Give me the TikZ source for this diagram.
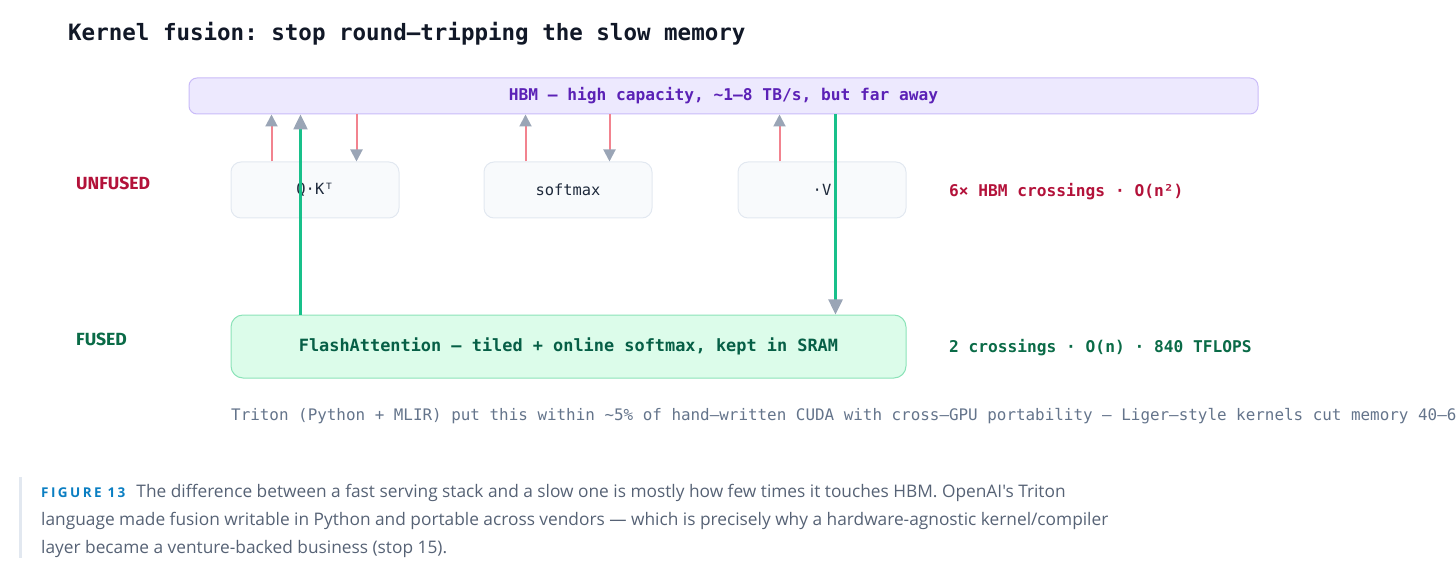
\documentclass[tikz,border=0pt]{standalone}
\usepackage{fontspec}
\setmonofont{DejaVu Sans Mono}
\newfontfamily\capfont{Open Sans}
\newfontfamily\labfont{Fira Sans}
\usetikzlibrary{arrows.meta,calc}
\definecolor{titlec}{HTML}{111827}
\definecolor{hbmfill}{HTML}{EDE9FE}
\definecolor{hbmdraw}{HTML}{C9BBF8}
\definecolor{hbmtext}{HTML}{5B21B6}
\definecolor{boxfill}{HTML}{F8FAFC}
\definecolor{boxdraw}{HTML}{E2E8F0}
\definecolor{boxtext}{HTML}{1E293B}
\definecolor{pinkc}{HTML}{F2838F}
\definecolor{tipgray}{HTML}{9AA5B6}
\definecolor{greenc}{HTML}{18C08A}
\definecolor{flashfill}{HTML}{DCFCEA}
\definecolor{flashdraw}{HTML}{8BE3B8}
\definecolor{flashtext}{HTML}{065F46}
\definecolor{redc}{HTML}{B3123A}
\definecolor{fusedc}{HTML}{0A6B47}
\definecolor{tritonc}{HTML}{64748B}
\definecolor{capc}{HTML}{566275}
\definecolor{figc}{HTML}{0A7EC2}
\definecolor{barc}{HTML}{E2E8F0}
\tikzset{
  opbox/.style={draw=boxdraw, fill=boxfill, line width=1pt, rounded corners=10pt,
    minimum width=168pt, minimum height=56pt, inner sep=0pt,
    font=\ttfamily\fontsize{15.4}{18}\selectfont, text=boxtext},
  pinkup/.style={draw=pinkc, line width=2pt, -{Triangle[length=12pt,width=12pt,color=tipgray]}},
  greenarr/.style={draw=greenc, line width=2.5pt, -{Triangle[length=15pt,width=14pt,color=tipgray]}},
  sidelab/.style={anchor=base west, font=\labfont\bfseries\fontsize{17.6}{20}\selectfont},
  stat/.style={anchor=west, inner sep=0pt, font=\ttfamily\bfseries\fontsize{16.2}{19}\selectfont},
  capline/.style={anchor=base west, inner sep=0pt, text=capc, font=\capfont\fontsize{17.3}{20}\selectfont}
}
\begin{document}
\begin{tikzpicture}[x=1pt,y=-1pt]
\useasboundingbox (0,0) rectangle (1456,577);
% title
\node[anchor=base west, inner sep=0pt, text=titlec, font=\ttfamily\bfseries\fontsize{22.5}{26}\selectfont] (title) at (68,41) {Kernel fusion: stop round–tripping the slow memory};
% HBM
\node[draw=hbmdraw, fill=hbmfill, line width=1pt, rounded corners=8pt, minimum width=1069pt, minimum height=36pt, inner sep=0pt,
  text=hbmtext, font=\ttfamily\bfseries\fontsize{16.2}{18}\selectfont] (hbm) at (723.5,96) {\raisebox{-1.5pt}{HBM — high capacity, \textasciitilde1–8 TB/s, but far away}};
% side labels
\node[sidelab, text=redc, inner sep=0pt] (unf) at (76,190) {UNFUSED};
\node[sidelab, text=fusedc, inner sep=0pt] (fus) at (76,345) {FUSED};
% op boxes
\node[opbox] (qk) at (315,190) {Q·Kᵀ};
\node[opbox] (sm) at (568,190) {softmax};
\node[opbox] (v) at (822,190) {·V};
% flash
\node[draw=flashdraw, fill=flashfill, line width=1pt, rounded corners=12pt, minimum width=675pt, minimum height=63pt, inner sep=0pt,
  text=flashtext, font=\ttfamily\bfseries\fontsize{16.9}{19}\selectfont] (flash) at (568.5,346.5) {\raisebox{-1.5pt}{FlashAttention — tiled + online softmax, kept in SRAM}};
% stats
\node[stat, text=redc] (s1) at (949,192) {6× HBM crossings · O(n²)};
\node[stat, text=fusedc] (s2) at (949,348) {2 crossings · O(n) · 840 TFLOPS};
% pink arrows
\coordinate (a1) at ($(qk.north west)+(41,0)$);
\draw[pinkup] (a1) -- (a1 |- hbm.south);
\coordinate (a2) at ($(qk.north west)+(126,0)$);
\draw[pinkup] (a2 |- hbm.south) -- (a2);
\coordinate (a3) at ($(sm.north west)+(42,0)$);
\draw[pinkup] (a3) -- (a3 |- hbm.south);
\coordinate (a4) at ($(sm.north west)+(126,0)$);
\draw[pinkup] (a4 |- hbm.south) -- (a4);
\coordinate (a5) at ($(v.north west)+(42,0)$);
\draw[pinkup] (a5) -- (a5 |- hbm.south);
% green arrows
\coordinate (g1) at ($(flash.north west)+(70,0)$);
\draw[greenarr] (g1) -- (g1 |- hbm.south);
\coordinate (g2) at ($(flash.north west)+(605,0)$);
\draw[greenarr] (g2 |- hbm.south) -- (g2);
% triton note (cut at the right edge, as in the reference)
\begin{scope}
\clip (0,380) rectangle (1456,440);
\node[anchor=west, inner sep=0pt, text=tritonc, font=\ttfamily\fontsize{15.9}{18}\selectfont] (tri) at (231,416) {Triton (Python + MLIR) put this within \textasciitilde5\% of hand–written CUDA with cross–GPU portability — Liger–style kernels cut memory 40–60\%};
\end{scope}
% caption
\fill[barc] (19,477) rectangle (21.5,558);
\node[capline] (c1) at (41,497) {{\color{figc}\bfseries\addfontfeatures{LetterSpace=18}\fontsize{13.5}{16}\selectfont FIGURE 13}\hspace{11pt}The difference between a fast serving stack and a slow one is mostly how few times it touches HBM. OpenAI's Triton};
\node[capline] (c2) at (41,525) {language made fusion writable in Python and portable across vendors — which is precisely why a hardware-agnostic kernel/compiler};
\node[capline] (c3) at (41,553) {layer became a venture-backed business (stop 15).};
\end{tikzpicture}
\end{document}
